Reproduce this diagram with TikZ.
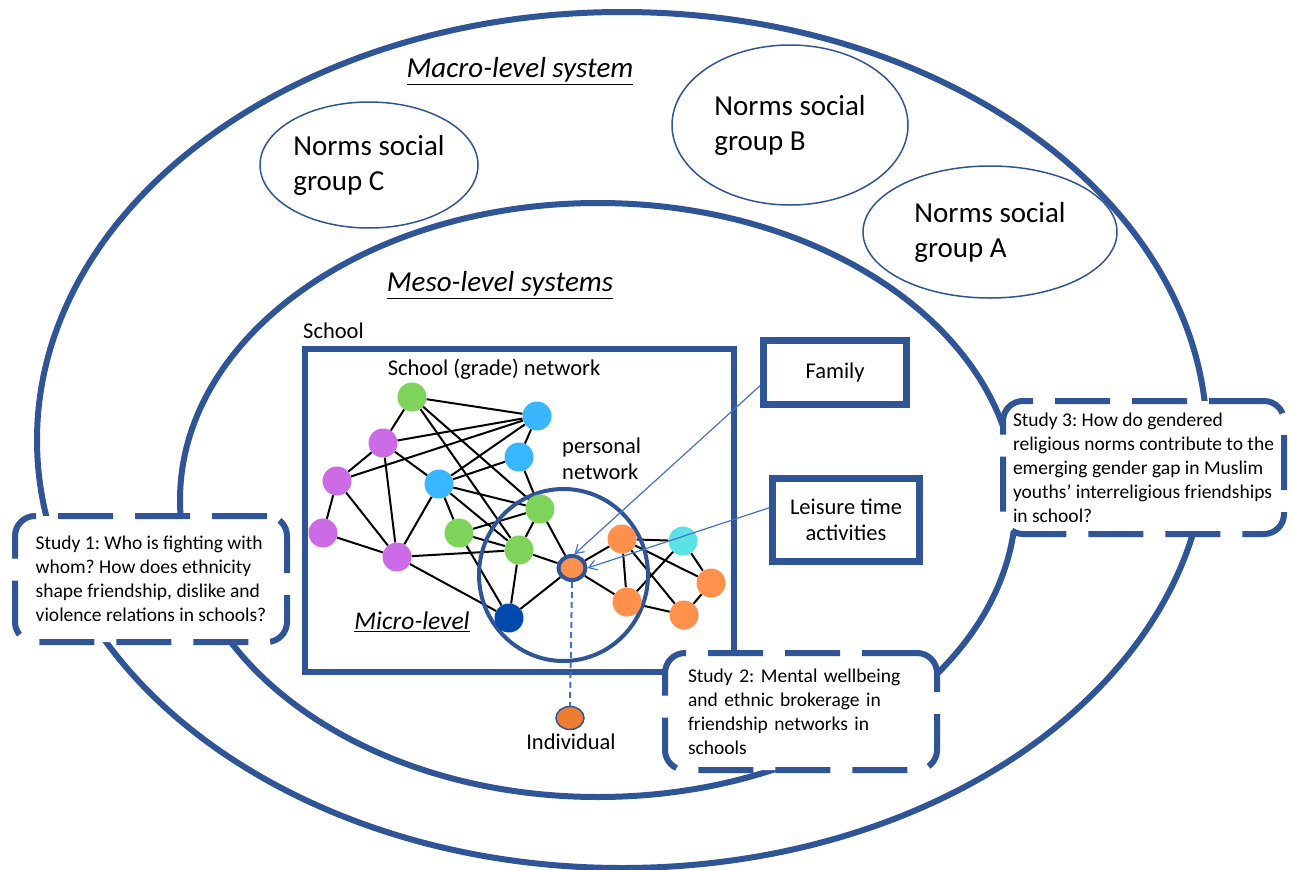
\documentclass[tikz,border=0pt]{standalone}
\usepackage{fontspec}
\setmainfont{Carlito}
\usetikzlibrary{shapes.geometric,arrows.meta,backgrounds}
\definecolor{frameblue}{HTML}{2F5597}
\definecolor{arrowblue}{HTML}{4472C4}
\definecolor{netgreen}{HTML}{7ED35A}
\definecolor{netblue}{HTML}{38B6FF}
\definecolor{netviolet}{HTML}{CB6CE6}
\definecolor{netorange}{HTML}{FF914D}
\definecolor{netcyan}{HTML}{5CE1E6}
\definecolor{netnavy}{HTML}{004AAD}
\definecolor{indorange}{HTML}{ED7D31}
\begin{document}
\frenchspacing
\begin{tikzpicture}[x=1pt,y=-1pt,
    system/.style={draw=frameblue,line width=6pt},
    normbox/.style={ellipse,draw=frameblue,line width=1.5pt,inner sep=0pt,align=left,font=\fontsize{29}{35}\selectfont},
    levelname/.style={font=\fontsize{29}{34}\selectfont\itshape},
    plain/.style={font=\fontsize{22.5}{26}\selectfont},
    studybox/.style={draw=frameblue,fill=white,line width=6pt,dash pattern=on 55pt off 22pt,rounded corners=20pt,align=left,inner sep=0pt,font=\fontsize{19.5}{24}\selectfont},
    ctxbox/.style={draw=frameblue,line width=7pt,inner sep=0pt,align=center,font=\fontsize{22.5}{26}\selectfont},
    pupil/.style={circle,minimum size=29pt,inner sep=0pt},
    tie/.style={line width=2pt},
    influence/.style={draw=arrowblue,line width=1.2pt,-{Straight Barb[length=8pt,width=10pt]}}
  ]
  \useasboundingbox (0,0) rectangle (1293,870);
  \begin{pgfonlayer}{background}
    \fill[white] (0,0) rectangle (1293,870);
  \end{pgfonlayer}

  % macro and meso systems
  \draw[system] (622,440) ellipse [x radius=585,y radius=428];
  \draw[system] (598,500) ellipse [x radius=418,y radius=297];
  \node[levelname] (macro) at (520,71) {\underline{Macro-level system}};
  \node[levelname] (meso) at (500,285) {\underline{Meso-level systems}};

  \node[normbox,minimum width=218,minimum height=126] (normsC) at (369,165) {Norms social\\group C};
  \node[normbox,minimum width=236,minimum height=160] (normsB) at (790,125) {Norms social\\group B};
  \node[normbox,minimum width=254,minimum height=132] (normsA) at (990,232) {Norms social\\group A};

  % school and other contexts
  \node[draw=frameblue,line width=6pt,minimum width=429,minimum height=323,inner sep=0pt] (school) at (519.5,510.5) {};
  \node[plain,anchor=base west,inner sep=0pt] (schoolname) at (303,338) {School};
  \node[plain] (gradenet) at (494,369) {School (grade) network};
  \node[plain,anchor=west,align=left,inner sep=0pt] (personalname) at (562,459) {personal\\network};
  \node[font=\fontsize{25.5}{30}\selectfont\itshape] (micro) at (412,622) {\underline{Micro-level}};

  \node[ctxbox,minimum width=143,minimum height=64] (family) at (835,372.5) {Family};
  \node[ctxbox,minimum width=147,minimum height=83] (leisure) at (846,520) {Leisure time\\activities};

  % networks
  \node[ellipse,draw=frameblue,line width=4pt,minimum width=169,minimum height=172] (personal) at (563.5,575) {};

  \node[pupil,fill=netgreen] (green1) at (412,397) {};
  \node[pupil,fill=netblue] (blue1) at (537,416) {};
  \node[pupil,fill=netviolet] (violet1) at (383,443) {};
  \node[pupil,fill=netblue] (blue2) at (519,457) {};
  \node[pupil,fill=netviolet] (violet2) at (337,481) {};
  \node[pupil,fill=netblue] (blue3) at (439,484) {};
  \node[pupil,fill=netgreen] (green2) at (540,509) {};
  \node[pupil,fill=netviolet] (violet3) at (323,533) {};
  \node[pupil,fill=netgreen] (green3) at (459,533) {};
  \node[pupil,fill=netgreen] (green4) at (519,550) {};
  \node[pupil,fill=netviolet] (violet4) at (397,557) {};
  \node[pupil,fill=netnavy] (navy1) at (509,618) {};
  \node[pupil,fill=netorange] (orange1) at (622,539) {};
  \node[pupil,fill=netcyan] (cyan1) at (683,541) {};
  \node[pupil,fill=netorange] (orange2) at (711,583) {};
  \node[pupil,fill=netorange] (orange3) at (627,602) {};
  \node[pupil,fill=netorange] (orange4) at (684,615) {};
  \node[ellipse,fill=netorange,draw=frameblue,line width=4pt,minimum width=27,minimum height=24,inner sep=0pt] (ego) at (572,568) {};

  \begin{pgfonlayer}{background}
    \foreach \a/\b in {green1/blue1,green1/violet1,green1/green2,green1/green4,
        violet1/blue1,violet2/blue1,violet1/violet2,violet1/blue3,violet1/violet4,
        violet2/violet3,violet2/violet4,violet3/violet4,
        blue3/blue1,blue3/blue2,blue1/blue2,blue2/green2,
        blue3/green3,blue3/green2,blue3/green4,violet4/blue3,
        green3/green2,green3/green4,green3/navy1,violet4/green4,violet4/navy1,
        green2/green4,green2/ego,green4/ego,green4/navy1,navy1/ego,
        ego/orange1,ego/orange3,orange1/cyan1,orange1/orange3,orange1/orange2,
        orange1/orange4,cyan1/orange3,cyan1/orange2,orange2/orange4,orange3/orange4}
      \draw[tie] (\a) -- (\b);
  \end{pgfonlayer}

  \node[ellipse,fill=indorange,draw=frameblue,line width=1.5pt,minimum width=28,minimum height=23,inner sep=0pt] (individual) at (570,718) {};
  \node[plain] (indname) at (571,742) {Individual};
  \draw[arrowblue,line width=2pt,dash pattern=on 6pt off 4pt] (ego.south) -- (individual.north);

  \draw[influence] (family.190) -- (ego.80);
  \draw[influence] (leisure.171) -- (ego.east);

  % studies
  \node[studybox,minimum width=272,minimum height=126] (study1) at (151,579)
    {Study 1: Who is fighting with\\whom? How does ethnicity\\shape friendship, dislike and\\violence relations in schools?};
  \node[studybox,minimum width=272,minimum height=117,text width=226pt] (study2) at (801,711.5)
    {Study 2: Mental wellbeing\\and ethnic brokerage in\\friendship networks in\\schools};
  \node[studybox,minimum width=281,minimum height=133] (study3) at (1143.5,467.5)
    {Study 3: How do gendered\\religious norms contribute to the\\emerging gender gap in Muslim\\youths’ interreligious friendships\\in school?};
\end{tikzpicture}
\end{document}
